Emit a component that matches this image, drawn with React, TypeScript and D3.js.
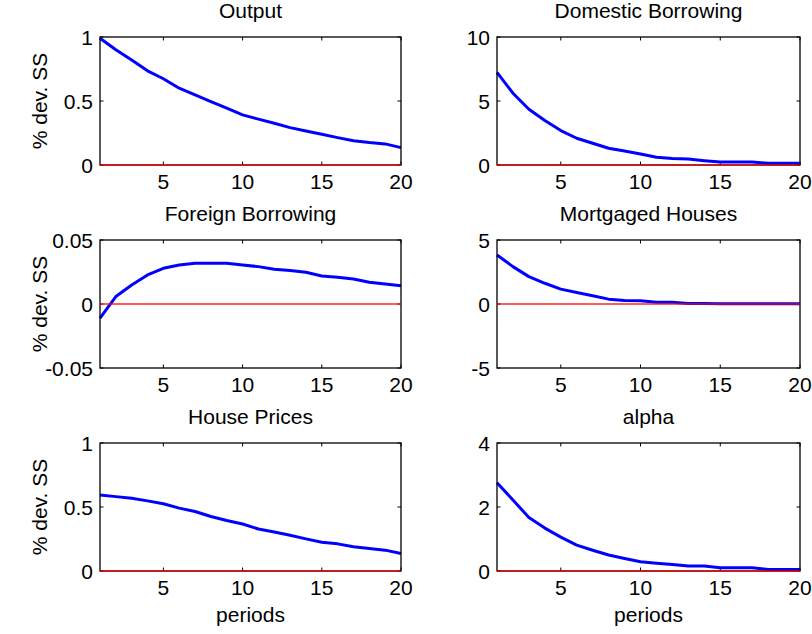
import React from "react";
import * as d3 from "d3";

const periods = d3.range(1, 21);

const titles = ["Output", "Domestic Borrowing", "Foreign Borrowing", "Mortgaged Houses", "House Prices", "alpha"];

const outputVals = [0.99, 0.9, 0.82, 0.736, 0.674, 0.6, 0.548, 0.496, 0.444, 0.392, 0.358, 0.326, 0.292, 0.266, 0.24, 0.214, 0.19, 0.175, 0.165, 0.136];
const domesticVals = [7.23, 5.61, 4.36, 3.47, 2.69, 2.09, 1.7, 1.31, 1.1, 0.86, 0.6, 0.5, 0.47, 0.34, 0.23, 0.23, 0.23, 0.13, 0.13, 0.13];
const foreignVals = [-0.011, 0.0058, 0.0149, 0.0227, 0.0279, 0.0305, 0.0318, 0.0318, 0.0318, 0.0305, 0.0292, 0.0271, 0.0261, 0.0248, 0.0219, 0.0209, 0.0196, 0.017, 0.0157, 0.0142];
const mortgagedVals = [3.83, 2.92, 2.14, 1.62, 1.16, 0.9, 0.64, 0.38, 0.27, 0.25, 0.14, 0.14, 0.04, 0.03, 0.02, 0.02, 0.01, 0.01, 0.01, 0.01];
const housePriceVals = [0.594, 0.581, 0.568, 0.548, 0.525, 0.491, 0.465, 0.426, 0.395, 0.367, 0.328, 0.305, 0.279, 0.251, 0.225, 0.212, 0.189, 0.176, 0.163, 0.137];
const alphaVals = [2.76, 2.22, 1.67, 1.34, 1.06, 0.81, 0.65, 0.5, 0.39, 0.29, 0.24, 0.2, 0.155, 0.155, 0.1, 0.1, 0.1, 0.05, 0.05, 0.05];

const seriesList = [outputVals, domesticVals, foreignVals, mortgagedVals, housePriceVals, alphaVals];

const yDomains: [number, number][] = [[0, 1], [0, 10], [-0.05, 0.05], [-5, 5], [0, 1], [0, 4]];
const yTicks = [[0, 0.5, 1], [0, 5, 10], [-0.05, 0, 0.05], [-5, 0, 5], [0, 0.5, 1], [0, 2, 4]];
const yTickLabels = [["0", "0.5", "1"], ["0", "5", "10"], ["-0.05", "0", "0.05"], ["-5", "0", "5"], ["0", "0.5", "1"], ["0", "2", "4"]];
const xTicks = [5, 10, 15, 20];

const colLefts = [100, 497];
const colRights = [401, 800];
const rowTops = [37, 240, 443];
const rowBottoms = [165, 368, 571];

const FONT = "'Liberation Sans', Arial, Helvetica, sans-serif";
const FS = 21;
const TICK = 3.5;

function Panel({ idx }: { idx: number }) {
  const col = idx % 2;
  const row = Math.floor(idx / 2);
  const x0 = colLefts[col], x1 = colRights[col];
  const y0 = rowTops[row], y1 = rowBottoms[row];
  const x = d3.scaleLinear().domain([1, 20]).range([x0, x1]);
  const y = d3.scaleLinear().domain(yDomains[idx]).range([y1, y0]);
  const vals = seriesList[idx];
  const line = d3.line<number>().x((_, i) => x(periods[i])).y((v) => y(v));
  const zero = d3.line<number>().x((p) => x(p)).y(() => y(0));
  return (
    <g>
      <rect x={x0} y={y0} width={x1 - x0} height={y1 - y0} fill="white" />
      {xTicks.map((t) => (
        <g key={"xt" + t}>
          <line x1={x(t)} x2={x(t)} y1={y1} y2={y1 - TICK} stroke="black" strokeWidth={1} />
          <line x1={x(t)} x2={x(t)} y1={y0} y2={y0 + TICK} stroke="black" strokeWidth={1} />
          <text x={x(t)} y={y1 + 24} textAnchor="middle" fontFamily={FONT} fontSize={FS} fill="black">{t}</text>
        </g>
      ))}
      {yTicks[idx].map((t, i) => (
        <g key={"yt" + i}>
          <line x1={x0} x2={x0 + TICK} y1={y(t)} y2={y(t)} stroke="black" strokeWidth={1} />
          <line x1={x1} x2={x1 - TICK} y1={y(t)} y2={y(t)} stroke="black" strokeWidth={1} />
          <text x={x0 - 7} y={y(t)} dy="0.36em" textAnchor="end" fontFamily={FONT} fontSize={FS} fill="black">{yTickLabels[idx][i]}</text>
        </g>
      ))}
      <path d={line(vals) || ""} fill="none" stroke="#0000ff" strokeWidth={3} strokeLinejoin="round" />
      <rect x={x0} y={y0} width={x1 - x0} height={y1 - y0} fill="none" stroke="black" strokeWidth={1.3} />
      <path d={zero([1, 20]) || ""} fill="none" stroke="#ff0000" strokeWidth={1.5} opacity={0.85} />
      <text x={(x0 + x1) / 2} y={y0 - 19} textAnchor="middle" fontFamily={FONT} fontSize={FS} fill="black">{titles[idx]}</text>
      {col === 0 && (
        <text transform={`translate(${47},${(y0 + y1) / 2}) rotate(-90)`} textAnchor="middle" fontFamily={FONT} fontSize={FS} fill="black">% dev. SS</text>
      )}
      {row === 2 && (
        <text x={(x0 + x1) / 2} y={y1 + 51} textAnchor="middle" fontFamily={FONT} fontSize={FS} fill="black">periods</text>
      )}
    </g>
  );
}

export default function App() {
  return (
    <svg width={812} height={634} style={{ position: "absolute", left: 0, top: 0, background: "white" }}>
      <rect x={0} y={0} width={812} height={634} fill="white" />
      {titles.map((_, i) => (
        <Panel key={i} idx={i} />
      ))}
    </svg>
  );
}
